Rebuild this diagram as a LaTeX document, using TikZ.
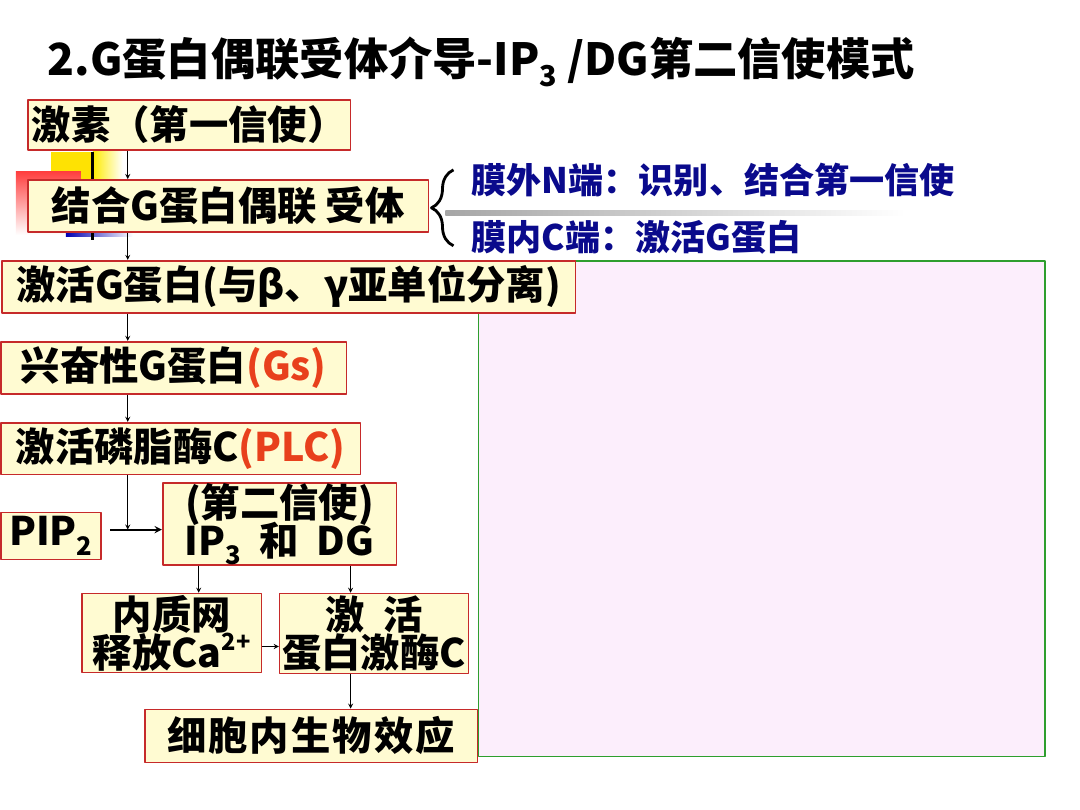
\documentclass[tikz,border=0pt]{standalone}
\usepackage{fontspec}
\usepackage{graphicx}
\usetikzlibrary{decorations.pathreplacing}
\newfontfamily\cjk{Noto Sans CJK SC}
\newcommand\lowidx[1]{\raisebox{-0.45ex}{\scalebox{0.65}{#1}}}
\newcommand\highidx[1]{\raisebox{0.8ex}{\scalebox{0.6}{#1}}}
\definecolor{boxline}{HTML}{C62A2A}
\definecolor{boxfill}{HTML}{FFFBD2}
\definecolor{pinkfill}{HTML}{FCEEFC}
\definecolor{greenline}{HTML}{2E9E2E}
\definecolor{navytext}{HTML}{0A0A8C}
\definecolor{redtext}{HTML}{E8401C}
\begin{document}
\begin{tikzpicture}[x=0.025cm, y=-0.025cm, line join=round, >=stealth,
		stepbox/.style 2 args={draw=boxline, fill=boxfill, line width=1.2pt, inner sep=0pt, align=center,
			minimum width=#1*0.025cm, minimum height=#2*0.025cm, font=\cjk\bfseries\fontsize{28}{30}\selectfont},
		flow/.style={->, line width=0.6pt},
		sidetext/.style={anchor=west, text=navytext, font=\cjk\bfseries\fontsize{25}{27}\selectfont}
		]
		\fill[white] (0,0) rectangle (1080,810);
		% bullet decoration behind the receptor box
		\fill[yellow!85!orange] (50,152) rectangle (92,185);
		\shade[left color=yellow!85!orange, right color=white] (92,152) rectangle (122,185);
		\shade[top color=red!75, bottom color=white] (15,172) rectangle (80,235);
		\shade[left color=blue!70!black, right color=white] (65,232) rectangle (132,237);
		\draw[line width=2pt] (92,152)--(92,240);
		% right panel
		\draw[greenline, fill=pinkfill, line width=1.2pt] (478,261) rectangle (1045,757);
		
		\node (title) at (42,62) [anchor=west, font=\cjk\bfseries\fontsize{31.5}{34}\selectfont]{2.G蛋白偶联受体介导-IP\lowidx{3} /DG第二信使模式};
		
		\node (hormone) at (188.5,125) [stepbox={323}{50}]{激素（第一信使）};
		\node (receptor) at (227.5,206) [stepbox={401}{52}]{结合G蛋白偶联 受体};
		\node (activeg) at (288,287) [stepbox={574}{52}]{激活G蛋白(与β、γ亚单位分离)};
		\node (gs) at (173,368) [stepbox={346}{52}]{兴奋性G蛋白\textcolor{redtext}{(Gs)}};
		\node (plc) at (180,449) [stepbox={360}{52}]{激活磷脂酶C\textcolor{redtext}{(PLC)}};
		\node (pip) at (50,536.5) [stepbox={100}{47}]{PIP\lowidx{2}};
		\node (second) at (279,524.5) [stepbox={234}{77}]{(第二信使)\\[-3pt]IP\lowidx{3}\ \ 和\ \ DG};
		\node (er) at (171,633.5) [stepbox={180}{79}]{内质网\\[-3pt]释放Ca\highidx{2+}};
		\node (pkc) at (373.5,634) [stepbox={189}{80}]{激\ \ 活\\[-3pt]蛋白激酶C};
		\node (effect) at (310.5,736.5) [stepbox={333}{53}]{细\hspace{1.5pt}胞\hspace{1.5pt}内\hspace{1.5pt}生\hspace{1.5pt}物\hspace{1.5pt}效\hspace{1.5pt}应};
		
		% brace and the two ends of the receptor
		\draw[line width=2pt, decorate, decoration={brace, amplitude=0.55cm}] (453,246)--(453,170);
		\shade[left color=gray!70, right color=white] (445,211) rectangle (905,216);
		\node (outer) at (466,180) [sidetext]{膜外N端：识别、结合第一信使};
		\node (inner) at (466,237) [sidetext]{膜内C端：激活G蛋白};
		
		\coordinate (ax) at (127,0);
		\coordinate (meet) at (127,530);
		\coordinate (ax2) at (198,0);
		\coordinate (ax3) at (350,0);
		\coordinate (ay) at (0,647);
		\draw[flow] (hormone.south -| ax)--(receptor.north -| ax);
		\draw[flow] (receptor.south -| ax)--(activeg.north -| ax);
		\draw[flow] (activeg.south -| ax)--(gs.north -| ax);
		\draw[flow] (gs.south -| ax)--(plc.north -| ax);
		\draw[flow] (plc.south -| meet)--(meet);
		\draw[->, line width=1.3pt, shorten <=6pt] (pip.east |- meet)--(second.west |- meet);
		\draw[flow] (second.south -| ax2)--(er.north -| ax2);
		\draw[flow] (second.south -| ax3)--(pkc.north -| ax3);
		\draw[flow] (er.east |- ay)--(pkc.west |- ay);
		\draw[flow] (pkc.south -| ax3)--(effect.north -| ax3);
		
\end{tikzpicture}
\end{document}
